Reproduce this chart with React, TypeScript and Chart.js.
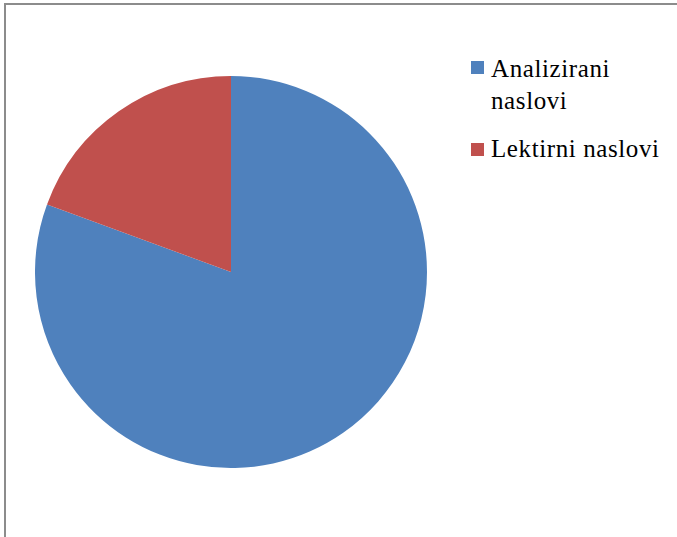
import React, { useEffect, useRef } from "react";
import { Chart, registerables } from "chart.js";

Chart.register(...registerables);

const categories = ["Analizirani naslovi", "Lektirni naslovi"];
const values = [80.6, 19.4];
const colors = ["#4F81BD", "#C0504D"];

export default function App() {
  const ref = useRef<HTMLCanvasElement | null>(null);

  useEffect(() => {
    if (!ref.current) return;
    const chart = new Chart(ref.current, {
      type: "pie",
      data: {
        labels: categories,
        datasets: [
          {
            data: values,
            backgroundColor: colors,
            borderWidth: 0,
          },
        ],
      },
      options: {
        animation: false,
        responsive: false,
        maintainAspectRatio: false,
        layout: { padding: 0 },
        plugins: {
          legend: { display: false },
          tooltip: { enabled: false },
        },
      },
    });
    return () => chart.destroy();
  }, []);

  return (
    <div
      style={{
        position: "absolute",
        left: 0,
        top: 0,
        width: 677,
        height: 537,
        overflow: "hidden",
        background: "#fff",
        fontFamily: "'Liberation Serif', 'Times New Roman', serif",
      }}
    >
      <div
        style={{
          position: "absolute",
          left: 4,
          top: 3,
          width: 700,
          height: 600,
          border: "2px solid #8c8c8c",
          boxSizing: "border-box",
        }}
      />
      <canvas
        ref={ref}
        width={392}
        height={392}
        style={{ position: "absolute", left: 35, top: 76, width: 392, height: 392 }}
      />
      {categories.map((c, i) => (
        <div key={c}>
          <div
            style={{
              position: "absolute",
              left: 471,
              top: i === 0 ? 61 : 143,
              width: 13,
              height: 13,
              background: colors[i],
            }}
          />
          <div
            style={{
              position: "absolute",
              left: 491,
              top: i === 0 ? 53 : 133,
              width: 180,
              fontSize: 25,
              letterSpacing: "0.6px",
              lineHeight: "32px",
              color: "#000",
            }}
          >
            {c}
          </div>
        </div>
      ))}
    </div>
  );
}
